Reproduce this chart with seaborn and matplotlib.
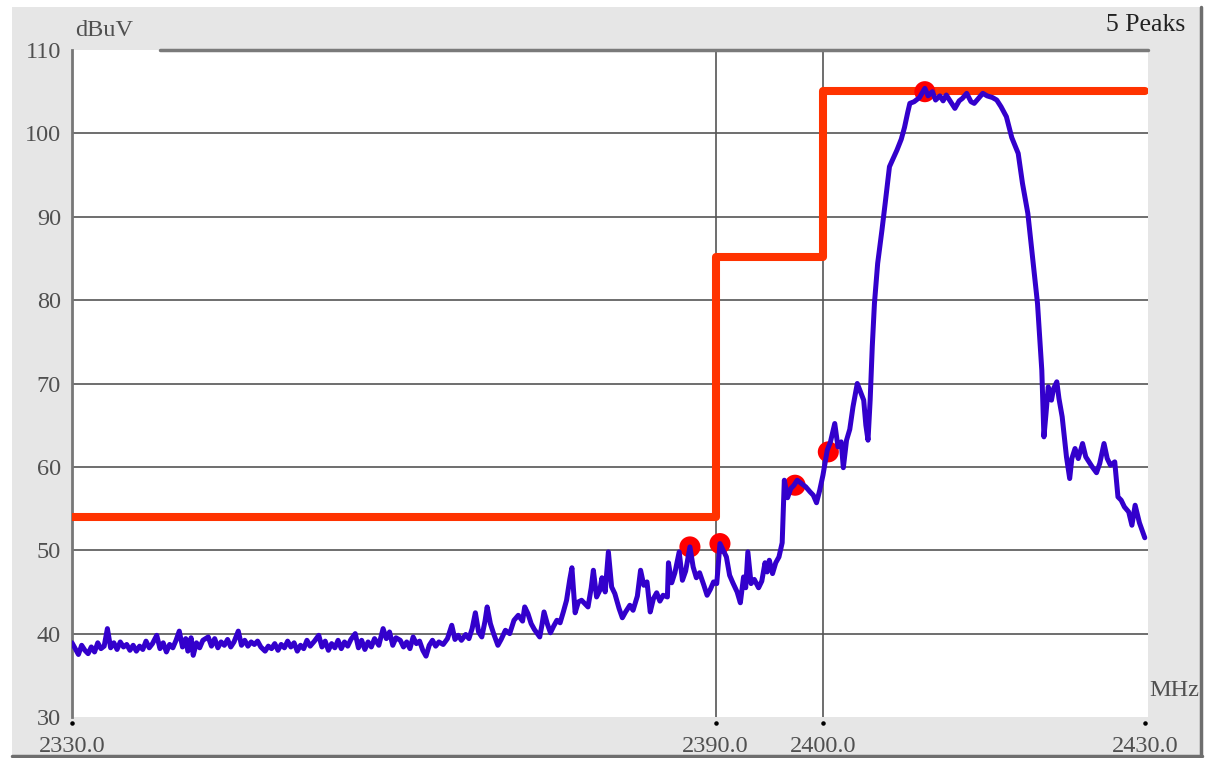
import numpy as np
import pandas as pd
import matplotlib.pyplot as plt
import seaborn as sns
from matplotlib.patches import Rectangle
from matplotlib.lines import Line2D

trace_freq = [
    2330.0, 2330.3, 2330.6, 2330.9, 2331.2, 2331.5, 2331.8, 2332.1, 2332.4, 2332.7,
    2333.0, 2333.3, 2333.6, 2333.9, 2334.2, 2334.5, 2334.8, 2335.1, 2335.4, 2335.7,
    2336.0, 2336.3, 2336.6, 2336.9, 2337.2, 2337.5, 2337.9, 2338.2, 2338.5, 2338.8,
    2339.1, 2339.4, 2339.7, 2340.0, 2340.3, 2340.6, 2340.8, 2341.1, 2341.3, 2341.6,
    2341.9, 2342.2, 2342.7, 2343.0, 2343.3, 2343.6, 2343.9, 2344.2, 2344.5, 2344.8,
    2345.1, 2345.5, 2345.8, 2346.1, 2346.4, 2346.7, 2347.0, 2347.3, 2347.6, 2348.0,
    2348.3, 2348.6, 2348.9, 2349.2, 2349.5, 2349.8, 2350.1, 2350.4, 2350.7, 2351.0,
    2351.3, 2351.6, 2351.9, 2352.2, 2352.6, 2353.0, 2353.3, 2353.6, 2353.9, 2354.2,
    2354.5, 2354.8, 2355.1, 2355.4, 2355.7, 2356.0, 2356.4, 2356.7, 2357.0, 2357.3,
    2357.6, 2357.9, 2358.2, 2358.6, 2359.0, 2359.3, 2359.6, 2359.9, 2360.2, 2360.6,
    2360.9, 2361.2, 2361.5, 2361.8, 2362.1, 2362.4, 2362.7, 2363.0, 2363.3, 2363.6,
    2363.9, 2364.2, 2364.6, 2365.0, 2365.4, 2365.7, 2366.0, 2366.3, 2366.7, 2367.0,
    2367.3, 2367.6, 2367.9, 2368.2, 2368.5, 2368.7, 2369.0, 2369.3, 2369.7, 2370.0,
    2370.4, 2370.8, 2371.2, 2371.6, 2372.0, 2372.2, 2372.5, 2372.8, 2373.1, 2373.6,
    2373.8, 2374.0, 2374.3, 2374.6, 2374.9, 2375.2, 2375.5, 2375.8, 2376.1, 2376.4,
    2376.6, 2376.9, 2377.2, 2377.5, 2377.8, 2378.1, 2378.4, 2378.6, 2378.9, 2379.2,
    2379.4, 2379.7, 2380.0, 2380.3, 2380.6, 2381.0, 2381.3, 2381.6, 2382.0, 2382.3,
    2382.7, 2383.0, 2383.3, 2383.6, 2383.9, 2384.2, 2384.5, 2384.8, 2385.1, 2385.5,
    2385.6, 2385.9, 2386.2, 2386.6, 2386.9, 2387.2, 2387.6, 2387.9, 2388.2, 2388.5,
    2388.9, 2389.2, 2389.5, 2389.8, 2390.1, 2390.4, 2390.7, 2391.0, 2391.3, 2391.6,
    2392.0, 2392.3, 2392.6, 2392.8, 2393.0, 2393.3, 2393.6, 2394.0, 2394.3, 2394.6,
    2394.8, 2395.0, 2395.3, 2395.6, 2395.9, 2396.2, 2396.4, 2396.7, 2397.0, 2397.3,
    2397.6, 2398.0, 2398.4, 2398.8, 2399.1, 2399.4, 2399.7, 2400.0, 2400.4, 2400.7,
    2401.1, 2401.4, 2401.7, 2401.9, 2402.2, 2402.5, 2402.8, 2403.2, 2403.5, 2403.8,
    2404.0, 2404.2, 2404.4, 2404.6, 2404.8, 2405.1, 2405.5, 2405.8, 2406.2, 2406.9,
    2407.3, 2407.6, 2407.9, 2408.1, 2408.5, 2409.0, 2409.5, 2409.8, 2410.2, 2410.5,
    2410.9, 2411.2, 2411.5, 2411.9, 2412.3, 2412.7, 2413.0, 2413.4, 2413.8, 2414.1,
    2414.5, 2414.9, 2415.3, 2415.8, 2416.2, 2416.6, 2417.1, 2417.6, 2418.2, 2418.6,
    2419.1, 2419.6, 2420.0, 2420.4, 2420.6, 2420.8, 2421.0, 2421.3, 2421.5, 2421.8,
    2422.0, 2422.3, 2422.7, 2423.0, 2423.2, 2423.5, 2423.8, 2424.2, 2424.5, 2424.8,
    2425.1, 2425.5, 2425.8, 2426.2, 2426.5, 2426.8, 2427.2, 2427.5, 2427.8, 2428.1,
    2428.5, 2428.8, 2429.1, 2429.5, 2430.0,
]
trace_level = [
    38.9, 38.2, 37.5, 38.6, 38.0, 37.6, 38.4, 37.8, 38.9, 38.2,
    38.5, 40.6, 38.3, 38.9, 38.1, 39.0, 38.4, 38.7, 38.0, 38.6,
    37.9, 38.5, 38.1, 39.1, 38.3, 38.8, 39.8, 38.2, 38.9, 37.8,
    38.7, 38.3, 39.2, 40.3, 38.4, 39.4, 37.9, 39.5, 37.4, 38.9,
    38.3, 39.2, 39.6, 38.5, 39.4, 38.3, 39.0, 38.6, 39.3, 38.4,
    39.0, 40.3, 38.6, 39.2, 38.5, 39.0, 38.7, 39.1, 38.4, 37.9,
    38.5, 38.2, 38.8, 38.0, 38.7, 38.3, 39.1, 38.4, 38.9, 37.9,
    38.6, 38.2, 39.2, 38.5, 39.1, 39.8, 38.4, 39.1, 38.0, 38.8,
    38.3, 39.2, 38.2, 39.0, 38.5, 39.3, 40.0, 38.3, 39.2, 38.1,
    39.0, 38.4, 39.4, 38.6, 40.6, 39.4, 40.2, 38.6, 39.5, 39.2,
    38.4, 39.0, 38.2, 39.6, 38.8, 39.1, 38.0, 37.3, 38.6, 39.2,
    38.5, 39.0, 38.7, 39.4, 41.0, 39.3, 39.8, 39.2, 39.9, 39.4,
    40.6, 42.5, 40.2, 39.6, 41.5, 43.2, 41.2, 40.0, 38.6, 39.3,
    40.4, 40.0, 41.6, 42.2, 41.5, 43.2, 42.4, 41.2, 40.5, 39.6,
    41.0, 42.6, 41.2, 40.1, 40.9, 41.6, 41.3, 42.6, 44.0, 46.5,
    47.9, 42.5, 43.8, 44.0, 43.6, 43.2, 45.5, 47.6, 44.4, 45.2,
    46.7, 45.0, 49.8, 45.6, 44.8, 43.0, 41.9, 42.6, 43.4, 42.8,
    44.5, 47.6, 45.8, 46.2, 42.6, 44.2, 44.9, 43.9, 44.6, 44.4,
    48.5, 46.1, 47.3, 49.8, 46.4, 47.5, 50.4, 48.0, 46.7, 47.3,
    45.8, 44.6, 45.3, 46.2, 46.0, 50.8, 50.0, 49.2, 47.0, 46.1,
    45.0, 43.7, 46.8, 45.5, 49.8, 46.0, 46.5, 45.5, 46.3, 48.5,
    47.4, 48.8, 47.2, 48.5, 49.2, 50.9, 58.4, 56.3, 57.4, 57.8,
    58.4, 58.0, 57.6, 57.0, 56.6, 55.7, 57.2, 59.0, 62.0, 63.0,
    65.2, 62.4, 63.0, 59.9, 63.2, 64.5, 67.2, 70.0, 69.0, 68.0,
    65.0, 63.2, 68.0, 74.5, 79.6, 84.4, 88.4, 91.6, 96.0, 98.0,
    99.3, 100.7, 102.5, 103.6, 103.8, 104.3, 105.4, 104.5, 105.0, 104.0,
    104.5, 103.9, 104.6, 103.8, 103.0, 103.9, 104.2, 104.8, 103.8, 103.6,
    104.2, 104.8, 104.5, 104.3, 104.0, 103.2, 102.0, 99.5, 97.6, 94.0,
    90.4, 84.4, 79.6, 71.6, 63.6, 66.5, 69.6, 68.0, 69.4, 70.2,
    68.2, 66.0, 61.2, 58.6, 61.0, 62.2, 61.0, 62.8, 61.2, 60.6,
    60.0, 59.3, 60.4, 62.8, 61.0, 60.2, 60.6, 56.4, 56.0, 55.2,
    54.6, 53.0, 55.4, 53.3, 51.5,
]

# limite (escalones)
limit_freq = [2330.0, 2390.0, 2400.0, 2430.0]
limit_level = [54.0, 85.2, 105.1, 105.1]

# 5 picos marcados
peak_freq = [2387.6, 2390.4, 2397.4, 2400.5, 2409.5]
peak_level = [50.4, 50.8, 57.8, 61.8, 105.0]

x_ticks = [2330.0, 2390.0, 2400.0, 2430.0]
y_ticks = [30, 40, 50, 60, 70, 80, 90, 100, 110]

trace_df = pd.DataFrame({"freq": trace_freq, "level": trace_level})
limit_df = pd.DataFrame({"freq": limit_freq, "level": limit_level})
peak_df = pd.DataFrame({"freq": peak_freq, "level": peak_level})

sns.set_style("white")
plt.rcParams['font.family'] = ['Liberation Serif', 'DejaVu Serif']

W, H = 1206, 758
fig = plt.figure(figsize=(W / 100, H / 100), dpi=100)
fig.patch.set_facecolor("white")

# fondo gris del instrumento
fig.add_artist(Rectangle((12 / W, 2 / H), 1189 / W, 749 / H, transform=fig.transFigure,
                         facecolor="#e6e6e6", edgecolor="none", zorder=-10))
fig.add_artist(Line2D([1201 / W, 1201 / W], [2 / H, 751 / H], transform=fig.transFigure,
                      color="#6e6e6e", lw=2.5))
fig.add_artist(Line2D([12 / W, 1202 / W], [2 / H, 2 / H], transform=fig.transFigure,
                      color="#6e6e6e", lw=2.5))

ax = fig.add_axes([72 / W, 1 - 717 / H, 1076 / W, 667 / H])
ax.set_facecolor("white")

# rejilla
for yv in y_ticks[1:-1]:
    ax.axhline(yv, color="#555555", lw=1.2, zorder=1)
for xv in [2390.0, 2400.0]:
    ax.axvline(xv, color="#555555", lw=1.2, zorder=1)
ax.axhline(110, xmin=0.082, xmax=1.0, color="#7a7a7a", lw=2.5, clip_on=False, zorder=2)

# limite, picos y traza
sns.lineplot(data=limit_df, x="freq", y="level", ax=ax, color="#ff3300", lw=5.8,
             drawstyle="steps-post", estimator=None, sort=False, zorder=3)
sns.scatterplot(data=peak_df, x="freq", y="level", ax=ax, color="#ff0000", s=230,
                edgecolor="none", zorder=4)
sns.lineplot(data=trace_df, x="freq", y="level", ax=ax, color="#3300cc", lw=3.6,
             estimator=None, sort=False, zorder=5)

ax.set_xlim(2330.0, 2430.3)
ax.set_ylim(30, 110)
ax.set_xlabel("")
ax.set_ylabel("")

for side in ["top", "right", "bottom"]:
    ax.spines[side].set_visible(False)
ax.spines["left"].set_color("#777777")
ax.spines["left"].set_linewidth(2.0)

ax.set_yticks(y_ticks)
ax.set_yticklabels([str(v) for v in y_ticks])
ax.tick_params(axis="y", direction="out", length=7, width=2.2, color="black", pad=1,
               labelsize=17.5, labelcolor="#505050")
ax.set_xticks(x_ticks)
ax.set_xticklabels([f"{v:.1f}" for v in x_ticks])
ax.tick_params(axis="x", length=0, pad=14, labelsize=17.5, labelcolor="#505050")

# puntitos bajo el eje x
ax.scatter(x_ticks, [29.25] * len(x_ticks), s=5, color="black", clip_on=False, zorder=6)

fig.text(75 / W, 1 - 30 / H, "dBuV", fontsize=17.5, color="#505050", va="center", ha="left")
fig.text(1185 / W, 1 - 25 / H, "5 Peaks", fontsize=18.5, color="#222222", va="center", ha="right")
fig.text(1149 / W, 1 - 690 / H, "MHz", fontsize=17.5, color="#505050", va="center", ha="left")

fig.savefig("out.png", dpi=100, facecolor=fig.get_facecolor())
